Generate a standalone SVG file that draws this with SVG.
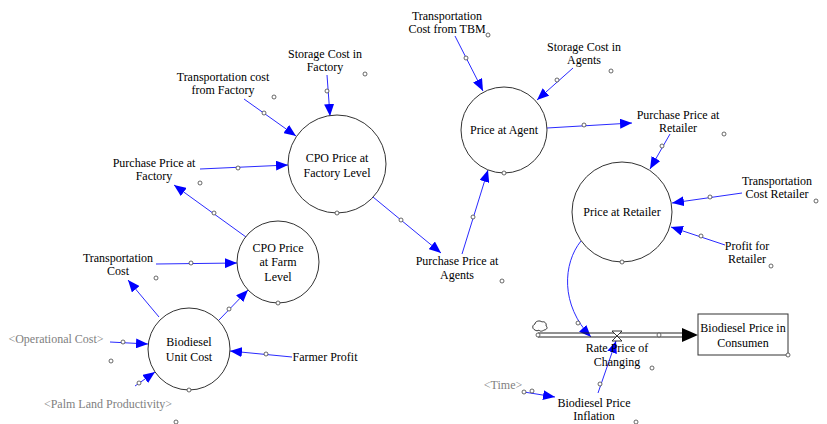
<svg xmlns="http://www.w3.org/2000/svg" width="827" height="424" viewBox="0 0 827 424" font-family="'Liberation Serif', 'DejaVu Serif', serif" font-size="12">
  <style>
    text { font-family: "Liberation Serif", "DejaVu Serif", serif; font-size: 12px; fill: #000; text-anchor: middle; }
    text.shadow { fill: #808080; }
    .aux { fill: #fff; stroke: #333; stroke-width: 1; }
    .h { fill: #fff; stroke: #444; stroke-width: 0.8; }
    .lnk { fill: none; stroke: #2a2aff; stroke-width: 1; marker-end: url(#arr); }
    .pipe { fill: none; stroke: #222; stroke-width: 1; }
  </style>
  <defs>
    <marker id="arr" viewBox="0 0 12 10" refX="12" refY="5" markerWidth="12" markerHeight="10" markerUnits="userSpaceOnUse" orient="auto">
      <path d="M0,0 L12,5 L0,10 Z" fill="#0000ff"/>
    </marker>
  </defs>
  <rect width="827" height="424" fill="#fff"/>

  <!-- connectors -->
  <g id="connectors">
    <path class="lnk" d="M110,342 L148,344"/>
    <path class="lnk" d="M135,386 L155,372"/>
    <path class="lnk" d="M292,357 L230,351"/>
    <path class="lnk" d="M159,317 L128,280"/>
    <path class="lnk" d="M219,320 L248,290"/>
    <path class="lnk" d="M156,264 L237,263"/>
    <path class="lnk" d="M246,237 L174,185"/>
    <path class="lnk" d="M200,169 L288,165"/>
    <path class="lnk" d="M244,99 L296,136"/>
    <path class="lnk" d="M327,75 L330,116"/>
    <path class="lnk" d="M373,197 L441,253"/>
    <path class="lnk" d="M462,254 L488,170"/>
    <path class="lnk" d="M455,36 L483,91"/>
    <path class="lnk" d="M573,68 L537,100"/>
    <path class="lnk" d="M547,128 L632,123"/>
    <path class="lnk" d="M670,134 L650,169"/>
    <path class="lnk" d="M742,193 L672,203"/>
    <path class="lnk" d="M725,245 L671,227"/>
    <path class="lnk" d="M581,241 C563,263 560,305 591,337"/>
    <path class="lnk" d="M598,393 L616,341"/>
    <path class="lnk" d="M524,392 L555,397"/>
    <!-- mid-link handles -->
    <circle class="h" cx="123" cy="342" r="2"/>
    <circle class="h" cx="139" cy="383" r="2"/>
    <circle class="h" cx="266" cy="354" r="2"/>
    <circle class="h" cx="229" cy="309" r="2"/>
    <circle class="h" cx="191" cy="263" r="2"/>
    <circle class="h" cx="214" cy="213" r="2"/>
    <circle class="h" cx="238" cy="168" r="2"/>
    <circle class="h" cx="264" cy="113" r="2"/>
    <circle class="h" cx="327" cy="91" r="2"/>
    <circle class="h" cx="401" cy="220" r="2"/>
    <circle class="h" cx="473" cy="217" r="2"/>
    <circle class="h" cx="466" cy="58" r="2"/>
    <circle class="h" cx="557" cy="80" r="2"/>
    <circle class="h" cx="584" cy="125" r="2"/>
    <circle class="h" cx="662" cy="146" r="2"/>
    <circle class="h" cx="710" cy="197" r="2"/>
    <circle class="h" cx="701" cy="236" r="2"/>
    <circle class="h" cx="578" cy="323" r="2"/>
    <circle class="h" cx="600" cy="384" r="2"/>
    <circle class="h" cx="524" cy="392" r="2"/>
    <circle class="h" cx="532" cy="391" r="2"/>
  </g>

  <!-- flow pipe with cloud source and valve -->
  <g id="flow-rate-price">
    <path d="M535,330 c-3,-1 -3,-5 0,-6 c0,-3 5,-4 7,-2 c2,-1 5,1 4,4 c2,1 1,4 -2,4 c-1,1 -4,2 -5,0 c-1,1 -3,1 -4,0 Z" fill="#fff" stroke="#222" stroke-width="0.9"/>
    <line class="pipe" x1="538" y1="333" x2="683" y2="333"/>
    <line class="pipe" x1="538" y1="337" x2="683" y2="337"/>
    <path d="M682,328 L698,335 L682,342 Z" fill="#000"/>
    <circle class="h" cx="538" cy="335" r="2"/>
    <circle class="h" cx="659" cy="335" r="2"/>
    <path d="M612,331 L622,331 L612,341 L622,341 Z" fill="#fff" stroke="#222" stroke-width="0.9"/>
    <text x="617" y="352">Rate Price of</text>
    <text x="617" y="366">Changing</text>
    <circle class="h" cx="652" cy="368" r="2"/>
  </g>

  <!-- stock -->
  <g id="biodiesel-price-in-consumen">
    <rect x="698" y="314" width="90" height="41" fill="#fff" stroke="#333"/>
    <text x="743" y="332">Biodiesel Price in</text>
    <text x="743" y="347">Consumen</text>
    <circle class="h" cx="788" cy="355" r="2"/>
  </g>

  <!-- circular auxiliaries -->
  <g id="biodiesel-unit-cost">
    <circle class="aux" cx="189" cy="349" r="41"/>
    <text x="189" y="346">Biodiesel</text>
    <text x="189" y="361">Unit Cost</text>
    <circle class="h" cx="189" cy="390" r="2"/>
  </g>
  <g id="cpo-price-farm">
    <circle class="aux" cx="278" cy="262" r="41"/>
    <text x="278" y="252">CPO Price</text>
    <text x="278" y="266">at Farm</text>
    <text x="278" y="281">Level</text>
    <circle class="h" cx="278" cy="303" r="2"/>
  </g>
  <g id="cpo-price-factory">
    <circle class="aux" cx="337" cy="164" r="49"/>
    <text x="337" y="162">CPO Price at</text>
    <text x="337" y="177">Factory Level</text>
    <circle class="h" cx="337" cy="213" r="2"/>
  </g>
  <g id="price-at-agent">
    <circle class="aux" cx="504" cy="130" r="43"/>
    <text x="504" y="134">Price at Agent</text>
    <circle class="h" cx="504" cy="173" r="2"/>
  </g>
  <g id="price-at-retailer">
    <circle class="aux" cx="622" cy="212" r="50"/>
    <text x="622" y="216">Price at Retailer</text>
    <circle class="h" cx="622" cy="262" r="2"/>
  </g>

  <!-- plain variables -->
  <g id="transportation-cost-from-tbm">
    <text x="447" y="20">Transportation</text>
    <text x="447" y="33">Cost from TBM</text>
    <circle class="h" cx="488" cy="35" r="2"/>
  </g>
  <g id="storage-cost-in-agents">
    <text x="584" y="51">Storage Cost in</text>
    <text x="584" y="64">Agents</text>
    <circle class="h" cx="611" cy="71" r="2"/>
  </g>
  <g id="storage-cost-in-factory">
    <text x="325" y="58">Storage Cost in</text>
    <text x="325" y="71">Factory</text>
    <circle class="h" cx="365" cy="74" r="2"/>
  </g>
  <g id="transportation-cost-from-factory">
    <text x="223" y="81">Transportation cost</text>
    <text x="223" y="94">from Factory</text>
    <circle class="h" cx="274" cy="97" r="2"/>
  </g>
  <g id="purchase-price-at-factory">
    <text x="154" y="167">Purchase Price at</text>
    <text x="154" y="180">Factory</text>
    <circle class="h" cx="200" cy="183" r="2"/>
  </g>
  <g id="transportation-cost">
    <text x="118" y="262">Transportation</text>
    <text x="118" y="275">Cost</text>
    <circle class="h" cx="156" cy="278" r="2"/>
  </g>
  <g id="operational-cost">
    <text class="shadow" x="56" y="343">&lt;Operational Cost&gt;</text>
    <circle class="h" cx="111" cy="361" r="2"/>
  </g>
  <g id="palm-land-productivity">
    <text class="shadow" x="108" y="408">&lt;Palm Land Productivity&gt;</text>
    <circle class="h" cx="176" cy="422" r="2"/>
  </g>
  <g id="farmer-profit">
    <text x="325" y="361">Farmer Profit</text>
  </g>
  <g id="purchase-price-at-agents">
    <text x="457" y="265">Purchase Price at</text>
    <text x="457" y="279">Agents</text>
    <circle class="h" cx="502" cy="281" r="2"/>
  </g>
  <g id="purchase-price-at-retailer">
    <text x="678" y="119">Purchase Price at</text>
    <text x="678" y="132">Retailer</text>
    <circle class="h" cx="724" cy="134" r="2"/>
  </g>
  <g id="transportation-cost-retailer">
    <text x="777" y="185">Transportation</text>
    <text x="777" y="198">Cost Retailer</text>
    <circle class="h" cx="816" cy="201" r="2"/>
  </g>
  <g id="profit-for-retailer">
    <text x="747" y="250">Profit for</text>
    <text x="747" y="263">Retailer</text>
    <circle class="h" cx="771" cy="266" r="2"/>
  </g>
  <g id="time">
    <text class="shadow" x="503" y="389">&lt;Time&gt;</text>
  </g>
  <g id="biodiesel-price-inflation">
    <text x="594" y="407">Biodiesel Price</text>
    <text x="594" y="420">Inflation</text>
    <circle class="h" cx="636" cy="422" r="2"/>
  </g>
</svg>
